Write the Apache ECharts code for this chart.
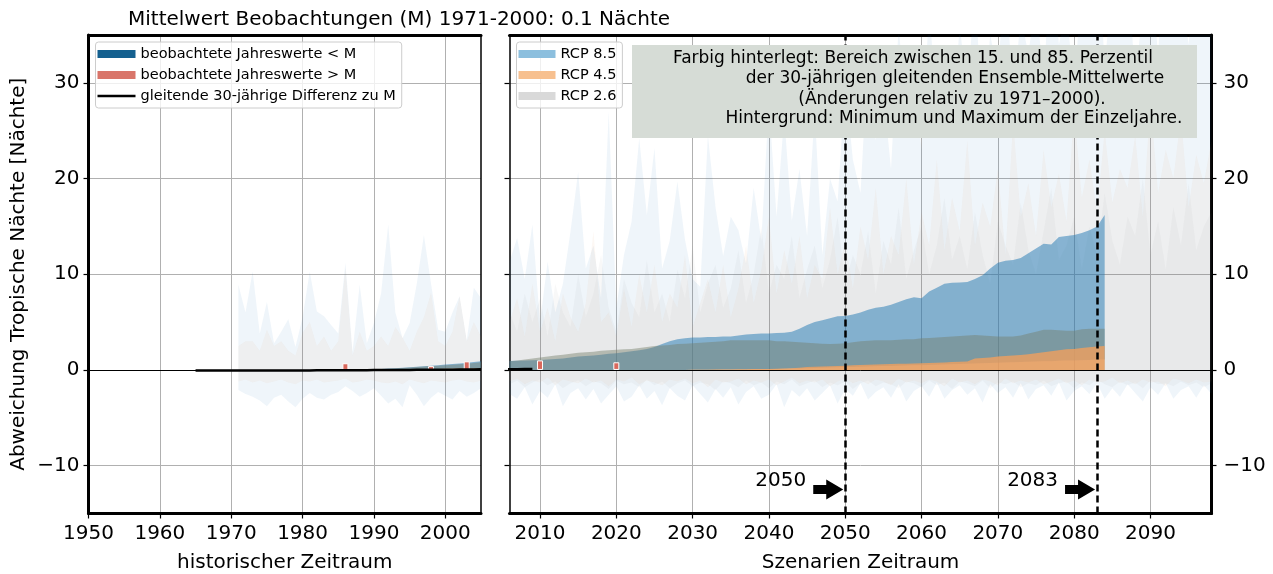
<!DOCTYPE html>
<html lang="de">
<head>
<meta charset="utf-8">
<style>
  html, body { margin: 0; padding: 0; background: #fff; }
  #chart { width: 1273px; height: 574px; }
</style>
</head>
<body>
<div id="chart"></div>
<script src="https://cdn.jsdelivr.net/npm/echarts@6/dist/echarts.min.js"></script>
<script>
// ---- data ----
// historischer Zeitraum: Hintergrund min/max 1971-2005
const histBgYears = [1971,1972,1973,1974,1975,1976,1977,1978,1979,1980,1981,1982,1983,1984,1985,1986,1987,1988,1989,1990,
  1991,1992,1993,1994,1995,1996,1997,1998,1999,2000,2001,2002,2003,2004,2005];
const histMaxBlue = [8.9,6.0,10.3,3.8,7.1,2.8,4.0,5.3,2.4,5.5,10.3,6.1,5.6,4.7,3.8,11.2,1.9,8.9,2.8,4.9,
  8.0,15.2,6.0,3.3,4.9,9.0,14.1,9.0,4.2,4.0,6.0,7.7,3.1,8.6,7.5];
const histMinBlue = [-2.1,-2.5,-2.8,-3.2,-3.8,-2.9,-2.6,-3.3,-3.9,-3.0,-2.4,-2.9,-3.1,-2.6,-2.3,-1.7,-2.2,-2.8,-2.4,-1.9,
  -2.7,-3.5,-3.0,-3.9,-1.6,-2.6,-3.8,-2.9,-2.3,-2.7,-3.1,-2.2,-2.8,-2.4,-1.9];
const histMaxBeige = [2.5,3.0,3.0,2.0,4.2,2.5,3.0,2.0,1.5,3.9,5.0,2.5,3.5,2.0,3.0,10.7,1.5,4.0,2.0,2.5,
  3.5,2.5,4.5,3.4,2.0,4.0,5.5,8.1,3.0,2.5,4.0,7.7,3.0,5.0,3.5];
const histMinBeige = [-1.2,-1.0,-1.3,-1.1,-1.4,-1.2,-1.0,-1.3,-1.5,-1.1,-1.2,-1.0,-1.3,-1.2,-1.1,-0.9,-1.3,-1.2,-1.0,-1.1,
  -1.3,-1.4,-1.2,-1.5,-1.0,-1.2,-1.4,-1.1,-1.2,-1.3,-1.1,-1.0,-1.2,-1.3,-1.1];

// Ensemble-Bänder im historischen Teil
const histBandYears = [1988,1989,1990,1991,1992,1993,1994,1995,1996,1997,1998,1999,2000,2001,2002,2003,2004,2005];
const histUpper85 = [0.0,0.03,0.06,0.1,0.14,0.18,0.23,0.28,0.33,0.38,0.44,0.5,0.56,0.62,0.68,0.75,0.82,0.9];
const histUpper26 = [0.0,0.02,0.05,0.08,0.12,0.16,0.2,0.25,0.3,0.35,0.4,0.45,0.5,0.55,0.6,0.66,0.72,0.8];
const histUpper45 = [0.0,0.01,0.02,0.03,0.04,0.05,0.06,0.07,0.08,0.09,0.1,0.11,0.12,0.13,0.14,0.14,0.15,0.15];

// Szenarien: Hintergrund min/max 2006-2098
const scenYears = Array.from({ length: 93 }, (_, i) => 2006 + i);
const bgMax85 = [11.3,13.8,9.5,15.2,5.0,11.3,6.0,9.0,14.5,20.7, 10.6,13.0,7.5,27.0,6.5,12.0,15.5,24.2,16.2,23.2,
  10.6,13.5,19.7,13.6,9.5,8.7,24.5,17.0,11.9,16.0, 14.6,11.1,19.0,13.5,28.0,16.0,26.5,15.6,21.0,14.0,
  27.0,12.0,20.0,17.6,30.0,22.0,18.5,33.0,24.0,29.0, 21.0,36.0,26.0,31.0,23.0,38.0,27.0,33.0,25.0,36.0,
  29.0,40.0,26.0,35.0,31.0,42.0,28.0,37.0,33.0,39.0, 30.0,44.0,34.0,38.0,29.0,41.0,36.0,45.0,32.0,40.0,
  35.0,43.0,30.0,38.0,42.0,33.0,46.0,36.0,40.0,34.0, 44.0,37.0,41.0];
const bgMin85 = [-2.5,-3.0,-1.8,-3.6,-2.2,-2.9,-1.5,-3.8,-2.4,-1.9, -3.1,-2.0,-3.5,-2.6,-1.7,-3.3,-2.8,-1.6,-3.0,-2.2,
  -3.7,-1.9,-2.7,-3.2,-1.6,-2.5,-3.4,-2.0,-2.9,-1.8, -3.6,-2.3,-1.7,-3.0,-2.6,-1.5,-3.9,-2.1,-2.8,-1.9,
  -3.2,-2.4,-1.6,-3.5,-2.0,-2.7,-1.4,-3.1,-2.3,-1.8, -2.9,-1.5,-3.3,-2.2,-1.7,-2.8,-1.3,-3.0,-2.1,-1.6,
  -2.6,-1.9,-3.4,-1.5,-2.4,-1.8,-2.9,-1.4,-3.1,-2.0, -1.6,-2.7,-1.3,-3.2,-2.2,-1.7,-2.5,-1.4,-3.0,-1.9,
  -2.8,-1.5,-2.4,-3.3,-1.8,-2.6,-1.4,-3.0,-2.1,-1.7, -2.9,-1.6,-2.5];
const bgMax45 = [5.0,7.5,3.5,9.0,4.0,6.5,3.0,8.0,5.5,4.0, 7.0,14.5,5.0,6.0,3.5,8.5,4.5,10.0,6.0,11.0,
  5.0,8.0,6.5,12.0,4.5,7.0,9.5,6.0,11.0,5.5, 8.5,13.0,7.0,10.5,16.0,8.0,12.5,9.0,14.0,7.5,
  11.0,9.5,17.0,10.0,13.5,8.5,15.0,11.5,19.0,10.0, 14.0,12.0,20.0,11.0,16.5,13.0,22.0,12.5,18.0,14.5,
  24.0,13.0,17.5,15.0,21.0,12.0,26.0,16.0,19.5,14.0, 23.0,17.0,20.5,15.5,27.0,18.0,22.0,16.5,25.0,17.5,
  21.0,19.0,24.5,16.0,28.0,18.5,23.0,20.0,26.5,17.0, 22.5,19.5,24.0];
const bgMin45 = [-1.2,-0.9,-1.5,-1.1,-1.3,-0.8,-1.6,-1.0,-1.2,-1.4, -0.9,-1.3,-1.1,-1.7,-1.0,-1.2,-0.8,-1.5,-1.1,-1.3,
  -1.6,-1.0,-1.2,-0.9,-1.4,-1.1,-1.8,-1.0,-1.3,-1.2, -0.9,-1.5,-1.1,-1.3,-1.0,-1.6,-1.2,-0.8,-1.4,-1.1,
  -1.3,-1.0,-1.7,-1.2,-0.9,-1.4,-1.1,-1.5,-1.0,-1.2, -1.6,-0.9,-1.3,-1.1,-1.4,-1.0,-1.2,-1.7,-0.9,-1.3,
  -1.1,-1.5,-1.0,-1.2,-1.6,-0.9,-1.4,-1.1,-1.3,-1.0, -1.5,-1.2,-0.9,-1.4,-1.1,-1.6,-1.0,-1.3,-1.2,-0.8,
  -1.4,-1.1,-1.5,-1.0,-1.3,-1.2,-1.7,-0.9,-1.1,-1.4, -1.0,-1.3,-1.2];
const bgMax26 = [6.0,4.0,8.0,5.0,7.5,3.5,9.0,6.0,4.5,10.0, 5.5,8.0,12.0,6.5,4.0,9.5,7.0,5.5,11.5,6.0,
  8.0,5.0,10.5,7.5,13.0,6.0,9.0,11.0,6.5,8.5, 12.5,7.0,10.0,15.0,8.0,11.0,9.5,14.0,7.5,10.5,
  13.0,8.5,11.5,16.0,9.0,12.0,10.0,14.5,8.0,13.5, 11.0,17.0,9.5,12.5,15.0,10.0,13.0,18.0,11.5,14.0,
  10.5,16.5,12.0,9.0,15.5,13.0,11.0,17.5,12.5,10.0, 14.5,19.0,11.5,13.0,16.0,10.5,15.0,12.0,18.5,13.5,
  11.0,16.0,14.0,20.0,12.0,15.5,10.5,17.0,13.0,19.5, 12.5,15.0,16.5];
const bgMin26 = [-1.5,-1.1,-1.8,-1.3,-1.0,-1.6,-1.2,-1.9,-1.4,-1.1, -1.7,-1.2,-1.4,-2.0,-1.1,-1.5,-1.3,-1.8,-1.0,-1.6,
  -1.2,-1.9,-1.4,-1.1,-1.7,-1.3,-1.5,-2.1,-1.2,-1.4, -1.8,-1.1,-1.6,-1.3,-1.9,-1.2,-1.5,-1.0,-1.7,-1.4,
  -1.1,-1.8,-1.3,-1.6,-1.2,-2.0,-1.4,-1.1,-1.7,-1.3, -1.5,-1.9,-1.2,-1.4,-1.8,-1.1,-1.6,-1.3,-2.0,-1.2,
  -1.4,-1.7,-1.1,-1.9,-1.3,-1.5,-1.2,-1.8,-1.4,-1.6, -1.1,-1.7,-1.4,-1.2,-1.9,-1.3,-1.6,-1.0,-1.5,-1.8,
  -1.2,-1.6,-1.3,-1.9,-1.1,-1.5,-1.4,-1.7,-1.2,-1.6, -1.3,-1.8,-1.4];

// Szenarien: 15.-85. Perzentil der 30-jährigen gleitenden Mittel 2006-2084
const bandYears = Array.from({ length: 79 }, (_, i) => 2006 + i);
const upper85 = [0.94,0.97,1.0,1.02,1.05,1.1,1.15,1.2,1.3,1.4, 1.45,1.5,1.6,1.7,1.75,1.85,1.95,2.05,2.2,2.4,
  2.7,3.0,3.2,3.3,3.4,3.4,3.45,3.45,3.5,3.5, 3.6,3.7,3.75,3.8,3.8,3.85,3.9,4.0,4.3,4.7,
  5.0,5.2,5.4,5.6,5.65,5.8,6.0,6.3,6.5,6.6, 6.8,7.1,7.4,7.6,7.5,8.2,8.6,9.0,9.1,9.15,
  9.2,9.5,9.9,10.6,11.2,11.4,11.5,11.7,12.2,12.7, 13.2,13.1,13.9,14.0,14.1,14.3,14.6,15.0,16.2];
const lower85 = [0,0,0,0,0,0,0,0,0,0, 0,0,0,0,0,0,0,0,0,0,
  0,0,0,0,0.02,0.02,0.03,0.03,0.04,0.05, 0.05,0.06,0.07,0.08,0.08,0.1,0.12,0.14,0.16,0.18,
  0.2,0.22,0.25,0.28,0.3,0.32,0.34,0.36,0.38,0.4, 0.42,0.44,0.46,0.48,0.5,0.52,0.55,0.58,0.6,0.62,
  0.65,0.68,0.7,0.72,0.75,0.78,0.8,0.82,0.85,0.88, 0.9,0.92,0.95,0.98,1.0,1.02,1.05,1.08,1.1];
const upper26 = [0.9,1.0,1.1,1.2,1.3,1.4,1.5,1.6,1.7,1.8, 1.85,1.9,2.0,2.05,2.1,2.15,2.2,2.3,2.4,2.5,
  2.55,2.6,2.7,2.75,2.8,2.85,2.9,2.95,3.0,3.1, 3.1,3.1,3.1,3.1,3.1,3.0,3.0,2.95,2.9,2.85,
  2.8,2.75,2.7,2.75,2.8,2.9,3.0,3.05,3.1,3.1, 3.1,3.15,3.2,3.2,3.3,3.35,3.4,3.45,3.5,3.55,
  3.6,3.65,3.6,3.55,3.5,3.5,3.5,3.6,3.8,4.0, 4.2,4.2,4.15,4.1,4.1,4.25,4.3,4.3,4.3];
const upper45 = [0,0,0,0,0,0,0,0,0,0, 0,0,0,0,0,0,0,0,0,0,
  0,0,0,0,0.01,0.02,0.03,0.04,0.05,0.06, 0.07,0.08,0.09,0.1,0.1,0.12,0.15,0.18,0.24,0.3,
  0.33,0.36,0.39,0.42,0.45,0.48,0.51,0.54,0.57,0.6, 0.62,0.64,0.66,0.68,0.7,0.73,0.76,0.79,0.82,0.85,
  0.87,1.2,1.25,1.3,1.4,1.45,1.5,1.55,1.65,1.75, 1.85,1.95,2.05,2.15,2.2,2.3,2.38,2.45,2.5];

// Beobachtungen: Jahreswerte minus M, gleitende 30-jährige Differenz
const obsAboveYears = [1986, 1998, 2003, 2010, 2020];
const obsAboveValues = [0.7, 0.4, 0.9, 1.0, 0.8];
const obsBelowYears = [];
const obsBelowValues = [];
const runYears = Array.from({ length: 45 }, (_, i) => 1965 + i);
const runValues = [-0.07,-0.07,-0.07,-0.07,-0.07,-0.07,-0.07,-0.07,-0.07,-0.07,
  -0.07,-0.07,-0.07,-0.07,-0.07,-0.05,-0.05,-0.04,-0.04,-0.04,
  -0.03,-0.03,-0.03,-0.03,-0.02,-0.01,0.0,0.0,0.0,0.0,
  0.0,0.02,0.03,0.03,0.03,0.03,0.03,0.04,0.04,0.05,
  0.07,0.07,0.08,0.09,0.1];

const markYears = [2050, 2083];
const ticksHistX = [1950,1960,1970,1980,1990,2000];
const ticksScenX = [2010,2020,2030,2040,2050,2060,2070,2080,2090];
const ticksY = [-10,0,10,20,30];

// ---- chart ----
const FONT = 'DejaVu Sans';
const chart = echarts.init(document.getElementById('chart'), null, { renderer: 'canvas' });

function band(name, right, xs, lo, hi, fill, z) {
  const loAt = i => (Array.isArray(lo) ? lo[i] : lo);
  return {
    type: 'custom', name: name,
    xAxisIndex: right ? 2 : 0, yAxisIndex: right ? 2 : 0,
    z: z, silent: true, clip: true, animation: false,
    itemStyle: { color: fill },
    encode: { x: 0, y: [1, 2] },
    data: xs.map((x, i) => [x, loAt(i), hi[i]]),
    renderItem: function (params, api) {
      if (params.dataIndex !== 0) return null;
      const top = [], bot = [];
      for (let i = 0; i < xs.length; i++) {
        top.push(api.coord([xs[i], hi[i]]));
        bot.push(api.coord([xs[i], loAt(i)]));
      }
      return { type: 'polygon', shape: { points: top.concat(bot.reverse()) }, style: { fill: fill } };
    }
  };
}

const pairs = (xs, ys) => xs.map((x, i) => [x, ys[i]]);
const inLeft = p => p[0] <= 2005;
const inRight = p => p[0] >= 2005;

const C_BG85 = 'rgba(31,119,180,0.07)';
const C_BG45 = 'rgba(220,140,70,0.06)';
const C_BG26 = 'rgba(120,120,120,0.05)';
const C_B85 = 'rgba(31,119,180,0.5)';
const C_B26 = 'rgba(118,126,106,0.45)';
const C_B45 = 'rgba(250,160,90,0.75)';
const RED = '#d9685c', DARKBLUE = '#14608f';

const axisText = { fontSize: 20, color: '#000', fontFamily: FONT };
const tickStyle = { color: '#000', width: 1.2 };
const gridLine = { show: true, lineStyle: { color: '#b0b0b0', width: 1 } };
const fmtNum = v => String(v).replace('-', '\u2212');

function frameAxis(gi, pos, width, min, max) {
  return {
    gridIndex: gi, type: 'value', min: min, max: max, position: pos,
    axisLine: { show: true, onZero: false, lineStyle: { color: '#000', width: width } },
    axisTick: { show: false }, axisLabel: { show: false }, splitLine: { show: false }
  };
}

function boxText(x, y, text) {
  return { type: 'text', x: x, y: y, z: 100, zlevel: 1,
    style: { text: text, fontSize: 17, fontFamily: FONT, fill: '#000', align: 'center', verticalAlign: 'middle' } };
}

const runLeft = pairs(runYears, runValues).filter(inLeft);
const runRight = pairs(runYears, runValues).filter(inRight);
const aboveAll = pairs(obsAboveYears, obsAboveValues);
const belowAll = pairs(obsBelowYears, obsBelowValues);

const barBase = {
  type: 'bar', barWidth: 6, barGap: '-100%', z: 3, animation: false,
  itemStyle: { borderColor: '#fff', borderWidth: 1 }
};

const option = {
  animation: false,
  title: {
    text: 'Mittelwert Beobachtungen (M) 1971-2000: 0.1 Nächte',
    left: 123, top: 5,
    textStyle: { fontSize: 20, fontWeight: 'normal', color: '#000', fontFamily: FONT }
  },
  grid: [
    { left: 88.5, top: 35, width: 392.5, height: 478.5, outerBoundsMode: 'none' },
    { left: 509.5, top: 35, width: 702, height: 478.5, outerBoundsMode: 'none' }
  ],
  legend: [
    {
      orient: 'vertical', left: 95.5, top: 42, itemWidth: 38, itemHeight: 8, itemGap: 5,
      padding: [4, 6, 4, 2], backgroundColor: 'rgba(255,255,255,0.8)',
      borderColor: '#cccccc', borderWidth: 1, borderRadius: 3, selectedMode: false,
      textStyle: { fontSize: 14.5, color: '#000', fontFamily: FONT, lineHeight: 16 },
      data: [
        { name: 'beobachtete Jahreswerte < M', icon: 'rect', itemStyle: { color: DARKBLUE, borderWidth: 0 } },
        { name: 'beobachtete Jahreswerte > M', icon: 'rect', itemStyle: { color: '#d9756a', borderWidth: 0 } },
        { name: 'gleitende 30-jährige Differenz zu M', icon: 'path://M0,0H38V2.6H0Z', itemStyle: { color: '#000' } }
      ]
    },
    {
      orient: 'vertical', left: 516.5, top: 42, itemWidth: 37, itemHeight: 8, itemGap: 5,
      padding: [4, 6, 4, 2], backgroundColor: 'rgba(255,255,255,0.8)',
      borderColor: '#cccccc', borderWidth: 1, borderRadius: 3, selectedMode: false,
      textStyle: { fontSize: 14.5, color: '#000', fontFamily: FONT, lineHeight: 16 },
      data: [
        { name: 'RCP 8.5', icon: 'rect', itemStyle: { color: '#8cbfde', borderWidth: 0 } },
        { name: 'RCP 4.5', icon: 'rect', itemStyle: { color: '#f7c08f', borderWidth: 0 } },
        { name: 'RCP 2.6', icon: 'rect', itemStyle: { color: '#d9d9d9', borderWidth: 0 } }
      ]
    }
  ],
  xAxis: [
    {
      gridIndex: 0, type: 'value', min: 1950, max: 2005, splitNumber: 6, position: 'bottom',
      axisLine: { show: true, onZero: false, lineStyle: { color: '#000', width: 3 } },
      axisTick: { show: true, length: 5, lineStyle: tickStyle, customValues: ticksHistX },
      axisLabel: Object.assign({ customValues: ticksHistX, margin: 10, formatter: fmtNum }, axisText),
      splitLine: gridLine,
      name: 'historischer Zeitraum', nameLocation: 'middle', nameGap: 39, nameTextStyle: axisText
    },
    frameAxis(0, 'top', 3, 1950, 2005),
    {
      gridIndex: 1, type: 'value', min: 2006, max: 2098, splitNumber: 9, position: 'bottom',
      axisLine: { show: true, onZero: false, lineStyle: { color: '#000', width: 3 } },
      axisTick: { show: true, length: 5, lineStyle: tickStyle, customValues: ticksScenX },
      axisLabel: Object.assign({ customValues: ticksScenX, margin: 10, formatter: fmtNum }, axisText),
      splitLine: gridLine,
      name: 'Szenarien Zeitraum', nameLocation: 'middle', nameGap: 39, nameTextStyle: axisText
    },
    frameAxis(1, 'top', 3, 2006, 2098)
  ],
  yAxis: [
    {
      gridIndex: 0, type: 'value', min: -15, max: 35, splitNumber: 5, position: 'left',
      axisLine: { show: true, onZero: false, lineStyle: { color: '#000', width: 3 } },
      axisTick: { show: true, length: 5, lineStyle: tickStyle, customValues: ticksY },
      axisLabel: Object.assign({ customValues: ticksY, margin: 9, formatter: fmtNum }, axisText),
      splitLine: gridLine,
      name: 'Abweichung Tropische Nächte [Nächte]', nameLocation: 'middle', nameGap: 60,
      nameRotate: 90, nameTextStyle: axisText
    },
    frameAxis(0, 'right', 1.5, -15, 35),
    {
      gridIndex: 1, type: 'value', min: -15, max: 35, splitNumber: 5, position: 'right',
      axisLine: { show: true, onZero: false, lineStyle: { color: '#000', width: 3 } },
      axisTick: { show: true, length: 5, lineStyle: tickStyle, customValues: ticksY },
      axisLabel: Object.assign({ customValues: ticksY, margin: 12, formatter: fmtNum }, axisText),
      splitLine: gridLine
    },
    {
      gridIndex: 1, type: 'value', min: -15, max: 35, splitNumber: 5, position: 'left',
      axisLine: { show: true, onZero: false, lineStyle: { color: '#000', width: 1.5 } },
      axisTick: { show: true, length: 5, lineStyle: tickStyle, customValues: ticksY },
      axisLabel: { show: false }, splitLine: { show: false }
    }
  ],
  graphic: {
    z: 100, zlevel: 1,
    elements: [
      { type: 'rect', z: 99, zlevel: 1, shape: { x: 632, y: 45, width: 565, height: 93 }, style: { fill: '#d6dcd6' } },
      boxText(913, 59, 'Farbig hinterlegt: Bereich zwischen 15. und 85. Perzentil'),
      boxText(955, 79, 'der 30-jährigen gleitenden Ensemble-Mittelwerte'),
      boxText(952, 100, '(Änderungen relativ zu 1971–2000).'),
      boxText(954, 119, 'Hintergrund: Minimum und Maximum der Einzeljahre.')
    ]
  },
  series: [
    // Hintergrund (historisch)
    band('histBgBlue', false, histBgYears, histMinBlue, histMaxBlue, C_BG85, 1),
    band('histBgBeige', false, histBgYears, histMinBeige, histMaxBeige, C_BG45, 1),
    // Hintergrund (Szenarien)
    band('bg85', true, scenYears, bgMin85, bgMax85, C_BG85, 1),
    band('bg45', true, scenYears, bgMin45, bgMax45, C_BG45, 1),
    band('bg26', true, scenYears, bgMin26, bgMax26, C_BG26, 1),
    // Ensemble-Bänder
    band('hist85', false, histBandYears, 0, histUpper85, C_B85, 2),
    band('hist26', false, histBandYears, 0, histUpper26, C_B26, 2),
    band('hist45', false, histBandYears, 0, histUpper45, C_B45, 2),
    band('RCP 8.5', true, bandYears, lower85, upper85, C_B85, 2),
    band('RCP 2.6', true, bandYears, 0, upper26, C_B26, 2),
    band('RCP 4.5', true, bandYears, 0, upper45, C_B45, 2),
    // Beobachtungen
    Object.assign({}, barBase, { name: 'beobachtete Jahreswerte > M', xAxisIndex: 0, yAxisIndex: 0,
      data: aboveAll.filter(inLeft), itemStyle: Object.assign({ color: RED }, barBase.itemStyle) }),
    Object.assign({}, barBase, { name: 'beobachtete Jahreswerte < M', xAxisIndex: 0, yAxisIndex: 0,
      data: belowAll.filter(inLeft), itemStyle: Object.assign({ color: DARKBLUE }, barBase.itemStyle) }),
    Object.assign({}, barBase, { name: 'obsAboveRight', xAxisIndex: 2, yAxisIndex: 2,
      data: aboveAll.filter(p => p[0] > 2005), itemStyle: Object.assign({ color: RED }, barBase.itemStyle) }),
    {
      type: 'line', name: 'gleitende 30-jährige Differenz zu M', xAxisIndex: 0, yAxisIndex: 0,
      data: runLeft, symbol: 'none', z: 4, silent: true, itemStyle: { color: '#000' },
      lineStyle: { color: '#000', width: 2.5 },
      markLine: {
        silent: true, symbol: 'none', animation: false, label: { show: false },
        lineStyle: { color: '#000', width: 1, type: 'solid' },
        data: [{ yAxis: 0 }]
      }
    },
    {
      type: 'line', name: 'runRight', xAxisIndex: 2, yAxisIndex: 2,
      data: runRight, symbol: 'none', z: 4, silent: true, itemStyle: { color: '#000' },
      lineStyle: { color: '#000', width: 2.5 },
      markLine: {
        silent: true, symbol: 'none', animation: false, label: { show: false }, z: 3,
        data: [
          { yAxis: 0, lineStyle: { color: '#000', width: 1, type: 'solid' } }
        ].concat(markYears.map(y => ({ xAxis: y, lineStyle: { color: '#000', width: 2.5, type: [7, 4] } })))
      },
      markPoint: {
        silent: true, animation: false,
        symbol: 'path://M0,5.5L13,5.5L13,0L30,10L13,20L13,14.5L0,14.5Z',
        symbolSize: [30, 20], symbolOffset: [-17, 0],
        itemStyle: { color: '#000' },
        label: {
          show: true, position: 'left', distance: 7, offset: [0, -9],
          fontSize: 20, color: '#000', fontFamily: FONT, formatter: p => String(p.value)
        },
        data: markYears.map(y => ({ coord: [y, -12.5], value: y }))
      }
    }
  ]
};

chart.setOption(option);
</script>
</body>
</html>
